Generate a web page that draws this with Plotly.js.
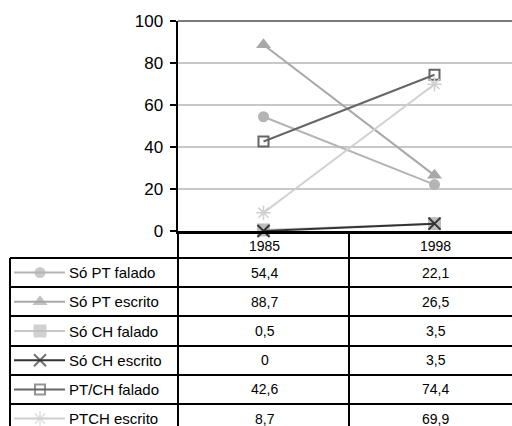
<!DOCTYPE html>
<html>
<head>
<meta charset="utf-8">
<script src="https://cdn.plot.ly/plotly-3.0.1.min.js"></script>
<style>html,body{margin:0;padding:0;background:#fff;}#chart{width:512px;height:426px;}</style>
</head>
<body>
<div id="chart"></div>
<script>
// ---- data ----
const years = ['1985', '1998'];
const seriesNames = ['Só PT falado', 'Só PT escrito', 'Só CH falado', 'Só CH escrito', 'PT/CH falado', 'PTCH escrito'];
const soPTfalado = [54.4, 22.1];
const soPTescrito = [88.7, 26.5];
const soCHfalado = [0.5, 3.5];
const soCHescrito = [0, 3.5];
const ptchFalado = [42.6, 74.4];
const ptchEscrito = [8.7, 69.9];
const yTicks = [0, 20, 40, 60, 80, 100];

const seriesValues = [soPTfalado, soPTescrito, soCHfalado, soCHescrito, ptchFalado, ptchEscrito];

// ---- styles ----
const styles = [
  {color: '#b4b4b4', line: '#b4b4b4', symbol: 'circle', size: 11, lw: 0},
  {color: '#a8a8a8', line: '#a8a8a8', symbol: 'triangle-up', size: 13, lw: 0},
  {color: '#bdbdbd', line: '#c8c8c8', symbol: 'square', size: 13, lw: 0},
  {color: '#333333', line: '#333333', symbol: 'x-thin-open', size: 12, lw: 2},
  {color: '#666666', line: '#666666', symbol: 'square-open', size: 10, lw: 2},
  {color: '#d0d0d0', line: '#d0d0d0', symbol: 'asterisk-open', size: 12, lw: 1.5}
];

const W = 512, H = 426;
const X0 = 178, Y0 = 231, Y100 = 21, colW = 171;
const tableLeft = 10;
const headerBottom = 258, rowH = 29.2;
const font = 'Liberation Sans, Arial, sans-serif';
const rowTop = i => Math.round(headerBottom + rowH * i);
const px = x => x / W;
const py = y => 1 - y / H;

const traces = [];
// legend keys in table (pixel-space axes)
seriesNames.forEach((n, i) => {
  const s = styles[i];
  const cy = headerBottom + rowH * (i + 0.5);
  traces.push({
    x: [14, 40, 65], y: [cy, cy, cy], type: 'scatter', mode: 'lines+markers',
    showlegend: false, hoverinfo: 'skip', cliponaxis: false,
    line: {color: s.line, width: 2},
    marker: {symbol: s.symbol, size: [0, s.size, 0], color: s.color, line: {color: s.color, width: s.lw}},
    xaxis: 'x2', yaxis: 'y2'
  });
});
seriesValues.forEach((vals, i) => {
  const s = styles[i];
  traces.push({
    x: [0, 1], y: vals, type: 'scatter', mode: 'lines+markers',
    name: seriesNames[i], cliponaxis: false, showlegend: false,
    line: {color: s.line, width: 2},
    marker: {symbol: s.symbol, size: s.size, color: s.color, line: {color: s.color, width: s.lw}},
    xaxis: 'x', yaxis: 'y', hoverinfo: 'skip'
  });
});

const shapes = [];
const blk = {color: '#000000', width: 2};
const hline = (x0, x1, y, line) => ({type: 'line', xref: 'paper', yref: 'paper', x0: px(x0), x1: px(x1), y0: py(y), y1: py(y), line: line, layer: 'above', opacity: 1});
const vline = (x, y0, y1, line) => ({type: 'line', xref: 'paper', yref: 'paper', x0: px(x), x1: px(x), y0: py(y0), y1: py(y1), line: line, layer: 'above', opacity: 1});
// darker top line at 100
shapes.push(hline(X0, W, Y100, {color: '#7a7a7a', width: 2}));
// table horizontals
for (let i = 0; i < seriesNames.length; i++) shapes.push(hline(tableLeft, W, rowTop(i), blk));
// table verticals
shapes.push(vline(tableLeft, headerBottom, H, blk));
shapes.push(vline(X0, Y0, H, blk));
shapes.push(vline(X0 + colW, Y0, H, blk));

const annotations = [];
const fmt = v => String(v).replace('.', ',');
years.forEach((yr, j) => {
  annotations.push({xref: 'paper', yref: 'paper', x: px(X0 + colW * (j + 0.5) + 1), y: py((Y0 + headerBottom) / 2 + 1),
    text: yr, showarrow: false, xanchor: 'center', yanchor: 'middle', font: {family: font, size: 14, color: '#000'}});
});
seriesNames.forEach((n, i) => {
  const cy = headerBottom + rowH * (i + 0.5);
  annotations.push({xref: 'paper', yref: 'paper', x: px(67), y: py(cy), text: n, showarrow: false,
    xanchor: 'left', yanchor: 'middle', font: {family: font, size: 15, color: '#000'}});
  seriesValues[i].forEach((v, j) => {
    annotations.push({xref: 'paper', yref: 'paper', x: px(X0 + colW * (j + 0.5) + 1), y: py(cy), text: fmt(v), showarrow: false,
      xanchor: 'center', yanchor: 'middle', font: {family: font, size: 14, color: '#000'}});
  });
});

const layout = {
  width: W, height: H,
  margin: {l: 0, r: 0, t: 0, b: 0},
  paper_bgcolor: '#fff', plot_bgcolor: 'rgba(0,0,0,0)',
  showlegend: false,
  xaxis: {
    domain: [X0 / W, 1], range: [-0.5, -0.5 + (W - X0) / colW],
    showgrid: false, zeroline: false, showticklabels: false, ticks: '',
    showline: true, linecolor: '#000', linewidth: 2.5, fixedrange: true, anchor: 'y'
  },
  yaxis: {
    domain: [1 - Y0 / H, 1 - Y100 / H], range: [0, 100], anchor: 'x',
    tickvals: yTicks, ticktext: yTicks.map(String),
    ticks: 'outside', ticklen: 6, tickwidth: 1.5, tickcolor: '#000',
    showline: true, linecolor: '#000', linewidth: 2.5,
    showgrid: true, gridcolor: '#c8c8c8', gridwidth: 1.5, zeroline: false,
    tickfont: {family: font, size: 17, color: '#000'}, ticklabelstandoff: 3, fixedrange: true
  },
  xaxis2: {domain: [0, 1], range: [0, W], visible: false, fixedrange: true, anchor: 'y2'},
  yaxis2: {domain: [0, 1], range: [H, 0], visible: false, fixedrange: true, anchor: 'x2'},
  shapes: shapes,
  annotations: annotations
};

Plotly.newPlot('chart', traces, layout, {staticPlot: true, displayModeBar: false});
</script>
</body>
</html>
